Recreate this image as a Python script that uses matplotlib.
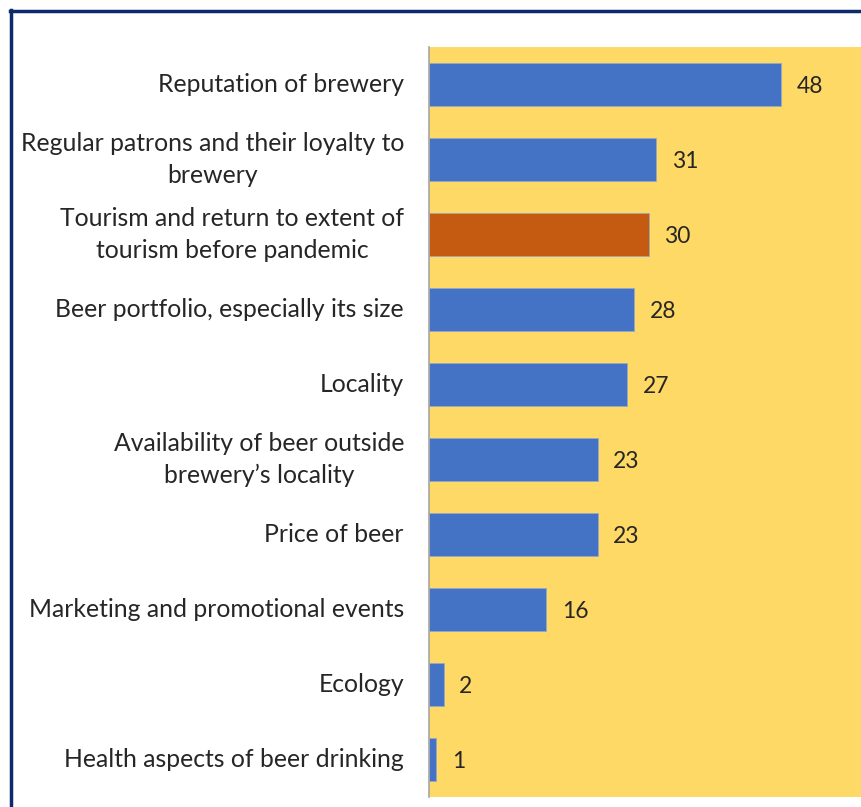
import matplotlib.pyplot as plt
from matplotlib.lines import Line2D

categories = [
    'Reputation of brewery',
    'Regular patrons and their loyalty to\nbrewery',
    'Tourism and return to extent of\ntourism before pandemic',
    'Beer portfolio, especially its size',
    'Locality',
    'Availability of beer outside\nbrewery\u2019s locality',
    'Price of beer',
    'Marketing and promotional events',
    'Ecology',
    'Health aspects of beer drinking',
]
values = [48, 31, 30, 28, 27, 23, 23, 16, 2, 1]
highlight = 'Tourism and return to extent of\ntourism before pandemic'

plt.rcParams['font.family'] = ['Lato', 'DejaVu Sans']

fig = plt.figure(figsize=(8.61, 8.07), dpi=100)
W, H = 861, 807
ax = fig.add_axes((429 / W, 10 / H, 1 - 429 / W, (797 - 47) / H))
ax.set_facecolor('#FFD966')

ypos = list(range(len(categories)))
colors = ['#C55A11' if c == highlight else '#4472C4' for c in categories]
ax.barh(ypos, values, height=0.58, color=colors, edgecolor='#8FA8D8', linewidth=0.5)

for y, v in zip(ypos, values):
    ax.text(v + 2.1, y + 0.03, str(v), va='center', ha='left', fontsize=16.5, color='#262626')

ax.set_xlim(0, 58.9)
ax.set_ylim(9.5, -0.5)
ax.set_yticks(ypos)
ax.set_yticklabels(categories, fontsize=17.8, color='#262626', multialignment='center',
                   linespacing=1.45, va='center')
ax.tick_params(axis='y', length=0, pad=18)
ax.set_xticks([])
for side in ['top', 'right', 'bottom']:
    ax.spines[side].set_visible(False)
ax.spines['left'].set_color('#A6A6A6')
ax.spines['left'].set_linewidth(1.2)

# navy frame from the surrounding slide (cropped on right and bottom)
fig.add_artist(Line2D([10 / W, 1], [1 - 10.5 / H, 1 - 10.5 / H], color='#0E2A6B', linewidth=2.5,
                      transform=fig.transFigure))
fig.add_artist(Line2D([10.5 / W, 10.5 / W], [0, 1 - 9.5 / H], color='#0E2A6B', linewidth=2.5,
                      transform=fig.transFigure))

fig.savefig('out.png', dpi=100)
